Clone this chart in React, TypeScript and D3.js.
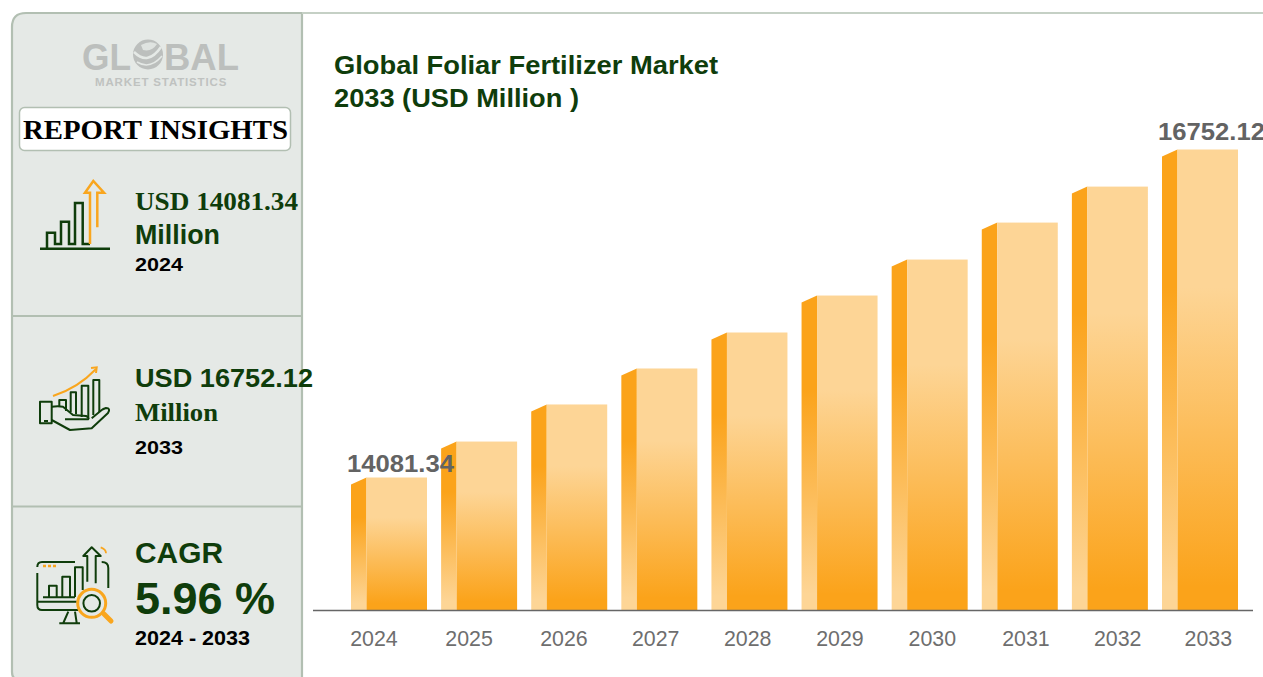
import React from "react";
import * as d3 from "d3";

const years = ["2024", "2025", "2026", "2027", "2028", "2029", "2030", "2031", "2032", "2033"];
const marketValues = [14081.34, 14374, 14676, 14969, 15262, 15563, 15856, 16157, 16450, 16752.12];
const labelledYears = ["2024", "2033"];

const WIDTH = 1263;
const HEIGHT = 677;
const BASE_Y = 610;
const DEPTH = 15.5;
const FRONT_W = 60.5;

const green = "#0f3d0b";
const orange = "#fba31a";
const light = "#fdd596";
const accent = "#f9a61e";
const rule = "#b2bfb2";
const brand = "#bcbfbd";

// Bars sit on a regular grid; the year labels run on a slightly wider one,
// with small per-label shifts from whole-pixel label placement.
const barScale = d3.scalePoint<string>().domain(years).range([351, 1162]);
const tickScale = d3.scalePoint<string>().domain(years).range([374.5, 1209]);
const tickShift = [-0.5, 1.8, 4, 3, 2.3, 1.9, 1.5, 2.4, 1.4, -0.7];
const y = d3.scaleLinear().domain([13002.4, 16752.12]).range([BASE_Y, 149.5]);

const arial = "Liberation Sans, Arial, sans-serif";
const times = "Liberation Serif, Times New Roman, serif";

// Text helper: `w` fixes the drawn width by stretching the glyphs.
const Txt = ({ x, y: ty, size, fill = "#000", family = arial, weight = 700, anchor = "start", children, ls, w }: any) => (
  <text
    x={x}
    y={ty}
    fontSize={size}
    fill={fill}
    fontFamily={family}
    fontWeight={weight}
    textAnchor={anchor}
    letterSpacing={ls}
    textLength={w}
    lengthAdjust={w ? "spacingAndGlyphs" : undefined}
  >
    {children}
  </text>
);

export default function App() {
  const sidePanel = "M302 13 H26 Q12 13 12 27 V672 Q12 680 20 680 H302 Z";
  return (
    <svg
      width={WIDTH}
      height={HEIGHT}
      viewBox={`0 0 ${WIDTH} ${HEIGHT}`}
      style={{ position: "absolute", left: 0, top: 0, display: "block", overflow: "hidden" }}
    >
      <defs>
        <linearGradient id="frontFill" x1="0" y1="0" x2="0" y2="1">
          <stop offset="0.3" stopColor={light} />
          <stop offset="0.95" stopColor={orange} />
        </linearGradient>
        <linearGradient id="sideFill" x1="0" y1="0" x2="0" y2="1">
          <stop offset="0.3" stopColor={orange} />
          <stop offset="0.95" stopColor={light} />
        </linearGradient>
      </defs>

      <rect width={WIDTH} height={HEIGHT} fill="#fff" />

      {/* Side panel */}
      <path d={sidePanel} fill="#e5e9e6" stroke={rule} strokeWidth={2.2} />
      <line x1={302} y1={13} x2={1263} y2={13} stroke="#c5d0c5" strokeWidth={2} />
      <line x1={12} y1={316} x2={302} y2={316} stroke={rule} strokeWidth={2.2} />
      <line x1={12} y1={506.5} x2={302} y2={506.5} stroke={rule} strokeWidth={2.2} />

      {/* Brand mark */}
      <Txt x={82} y={69.5} size={36} fill={brand} w={49}>GL</Txt>
      <circle cx={148} cy={54.5} r={15} fill={brand} />
      <path d="M134 52 Q148 66 161 47" stroke="#e5e9e6" strokeWidth={2.5} fill="none" />
      <path d="M137 62 Q150 70 162 56" stroke="#e5e9e6" strokeWidth={1.5} fill="none" />
      <path d="M141 45 Q150 40 157 44 Q152 52 143 50 Z" fill="#dfe3e0" />
      <Txt x={164} y={69.5} size={36} fill={brand} w={75}>BAL</Txt>
      <Txt x={95} y={85.5} size={11.5} fill="#bfc2c0" ls={0.85}>MARKET STATISTICS</Txt>

      {/* Report insights badge */}
      <rect x={19.5} y={107.5} width={271} height={43} rx={5} fill="#fff" stroke={rule} strokeWidth={1.5} />
      <Txt x={23} y={139} size={27.5} family={times} w={265}>REPORT INSIGHTS</Txt>

      {/* Rising bars icon */}
      <path d="M40 248.7 H110" fill="none" stroke={green} strokeWidth={2.5} />
      <path
        d="M47 248 V232.7 H55 V244 H61 V221.7 H69 V244 H75 V203 H82.7 V244 H90"
        fill="none"
        stroke={green}
        strokeWidth={2.5}
      />
      <path
        d="M90 244 V192.7 H85 L93.3 181 L104 192.7 H97.3 V227.3"
        fill="none"
        stroke={accent}
        strokeWidth={2.5}
      />
      <Txt x={135} y={210} size={25} fill={green} family={times} w={163}>USD 14081.34</Txt>
      <Txt x={135} y={244} size={27} fill={green} w={85}>Million</Txt>
      <Txt x={135} y={271} size={19} w={48}>2024</Txt>

      {/* Open hand icon */}
      <g fill="none" stroke={green} strokeWidth={2} strokeLinejoin="round">
        <path d="M59.3 406 V400 H66 V411 M70.7 412 V392.3 H76 V414 M81.7 417 V385.7 H88.3 V417 M93.3 415 V380 H99.3 V412" />
        <path d="M40 401.7 H51.7 V423.3 H40 Z M44 421 H48" />
        <path d="M51.7 406.7 Q58 406 63 406.7 L73 415 L86 416 Q90 418 88 419.3 H65" />
        <path d="M51.7 420 L70 430 L91.7 428.3 L108 413 Q111 408 106 408 Q103 409 101.7 410 L91.7 418.3" />
      </g>
      <path d="M53 396 Q78 388 96 369" fill="none" stroke={accent} strokeWidth={2} />
      <path d="M91 368 L96.7 367.3 L96 373" fill="none" stroke={accent} strokeWidth={2} />
      <Txt x={135} y={387} size={25.3} fill={green} w={178}>USD 16752.12</Txt>
      <Txt x={135} y={421} size={25} fill={green} family={times} w={83}>Million</Txt>
      <Txt x={135} y={454} size={19} w={48}>2033</Txt>

      {/* Monitor and magnifier icon */}
      <g fill="none" stroke={green} strokeWidth={2} strokeLinejoin="round">
        <path d="M75 562 H42 Q37.3 562 37.3 567 M37.3 573 V605 Q37.3 610 42 610 H78.3 M38.3 601.7 H76.7" />
        <path d="M101.7 562 Q108.3 562 108.3 568 V588" />
        <path d="M43 597.3 H75 M49 597 V585.7 H56.7 V597 M62.3 597 V576.7 H70 V597 M75 597 V567.3 H82.7 V590" />
        <path d="M87.3 581.7 V556 H83.3 L91.7 547.3 L100.7 556 H95.7 V583.3" />
        <path d="M68.3 611.7 L63.3 623 M75 611.7 L76.7 623 M59.3 623.3 H80" />
      </g>
      <path d="M43 566 H56" stroke={accent} strokeWidth={2.5} strokeDasharray="3 2" />
      <path d="M100.7 547.3 Q106 549 106 553.3" fill="none" stroke={accent} strokeWidth={1.8} />
      <circle cx={91.7} cy={603.3} r={14} fill="none" stroke={accent} strokeWidth={3} />
      <circle cx={91.7} cy={603.3} r={8.3} fill="none" stroke={green} strokeWidth={2} />
      <path d="M104 614 L111 621" stroke={accent} strokeWidth={5} strokeLinecap="round" />
      <Txt x={135} y={563} size={29} fill={green} w={88}>CAGR</Txt>
      <Txt x={135} y={614} size={44} fill={green} w={140}>5.96 %</Txt>
      <Txt x={135} y={645} size={19.5} w={115}>2024 - 2033</Txt>

      {/* Chart title */}
      <Txt x={334} y={74} size={25.5} fill={green} w={384}>Global Foliar Fertilizer Market</Txt>
      <Txt x={334} y={107} size={25.5} fill={green} w={245}>2033 (USD Million )</Txt>

      {/* Bars with a slanted side face */}
      {years.map((yr, i) => {
        const left = barScale(yr) as number;
        const top = y(marketValues[i]);
        return (
          <g key={yr}>
            <path
              d={`M${left} ${top + 7} L${left + DEPTH} ${top} V${BASE_Y} H${left} Z`}
              fill="url(#sideFill)"
            />
            <rect x={left + DEPTH} y={top} width={FRONT_W} height={BASE_Y - top} fill="url(#frontFill)" />
          </g>
        );
      })}

      {/* Category axis */}
      <line x1={313} y1={610.5} x2={1253} y2={610.5} stroke="#666" strokeWidth={1.5} />
      {years.map((yr, i) => (
        <Txt
          key={yr}
          x={(tickScale(yr) as number) + tickShift[i]}
          y={645.5}
          size={22}
          fill="#6e6e6e"
          weight={400}
          anchor="middle"
          w={47.5}
        >
          {yr}
        </Txt>
      ))}

      {/* Value labels on the first and last bars */}
      {years.map((yr, i) =>
        labelledYears.includes(yr) ? (
          <Txt
            key={yr}
            x={(barScale(yr) as number) - 4}
            y={y(marketValues[i]) - (i === 0 ? 5.5 : 9.5)}
            size={23.5}
            fill="#636363"
            w={107}
          >
            {marketValues[i].toFixed(2)}
          </Txt>
        ) : null
      )}
    </svg>
  );
}
